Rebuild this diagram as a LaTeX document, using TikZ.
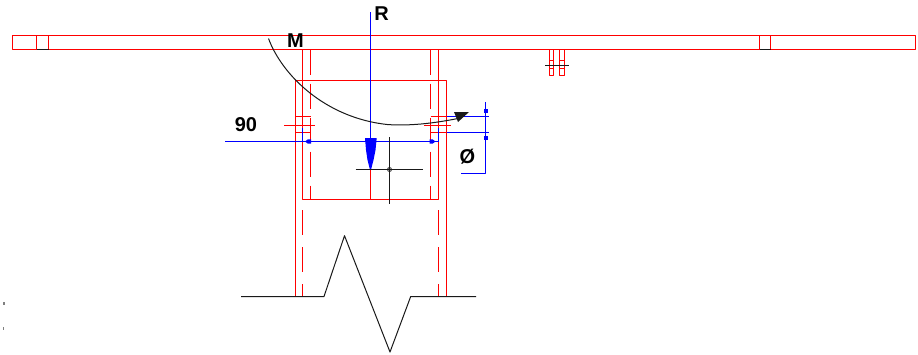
\documentclass[tikz,border=0pt]{standalone}
\usepackage{fontspec}
\setmainfont{Liberation Sans}
\usetikzlibrary{arrows.meta}
\definecolor{beamred}{rgb}{1,0,0}
\definecolor{dimblue}{rgb}{0,0,1}
\definecolor{inkblack}{rgb}{0.1,0.1,0.1}
\tikzset{
  beam/.style={color=beamred, line width=1pt},
  hidden/.style={color=beamred, line width=1pt, dash pattern=on 25pt off 9pt},
  dimline/.style={color=dimblue, line width=1pt},
  ink/.style={color=inkblack, line width=1pt},
  lbl/.style={inner sep=0pt, font=\fontsize{20}{20}\selectfont\bfseries}
}
\begin{document}
\begin{tikzpicture}[line cap=butt,line join=round, x=1pt,y=-1pt]
\clip(0,0) rectangle (918,354);
\draw [beam] (12.5,35.5) rectangle (915.5,49.5);
\draw [beam] (36.5,35.5) -- (36.5,49.5);
\draw [beam] (48.5,35.5) -- (48.5,49.5);
\draw [beam] (759.5,35.5) -- (759.5,49.5);
\draw [beam] (770.5,35.5) -- (770.5,49.5);
\draw [ink] (36.5,49.5) -- (48.5,49.5);
\draw [ink] (759.5,49.5) -- (770.5,49.5);
\draw [beam] (549.5,49.5) rectangle (553.5,75.5);
\draw [beam] (559.5,49.5) rectangle (564.5,75.5);
\draw [beam] (549.5,60.5) -- (553.5,60.5);
\draw [beam] (559.5,60.5) -- (564.5,60.5);
\draw [beam] (549.5,68.5) -- (553.5,68.5);
\draw [beam] (559.5,68.5) -- (564.5,68.5);
\draw [ink] (545,65.5) -- (568.5,65.5);
\draw [beam] (295.5,296.5) -- (295.5,80.5) -- (446.5,80.5) -- (446.5,296.5);
\draw [beam] (302.5,49.5) -- (302.5,199.5) -- (438.5,199.5) -- (438.5,49.5);
\draw [hidden] (310.5,49.5) -- (310.5,199.5);
\draw [hidden] (430.5,49.5) -- (430.5,199.5);
\draw [beam, dash pattern=on 25pt off 12pt] (302.5,210) -- (302.5,296.5);
\draw [beam, dash pattern=on 25pt off 12pt] (438.5,210) -- (438.5,296.5);
\draw [beam] (295.5,116.5) -- (310.5,116.5);
\draw [beam] (284,125.5) -- (315,125.5);
\draw [beam] (295.5,132.5) -- (310.5,132.5);
\draw [beam] (430.5,116.5) -- (446.5,116.5);
\draw [beam] (424,125.5) -- (451,125.5);
\draw [beam] (430.5,132.5) -- (446.5,132.5);
\draw [beam] (370.5,168) -- (370.5,199.5);
\draw [dimline] (370.5,12) -- (370.5,168);
\fill [color=dimblue] (365,138) -- (376.7,138) -- (375.5,150) -- (373.5,160) -- (371.2,169) -- (369.8,169) -- (367.5,160) -- (366,150) -- cycle;
\draw [dimline] (225,141.5) -- (438.5,141.5);
\draw [dimline] (302.5,128) -- (302.5,141.5);
\draw [dimline] (438.5,128) -- (438.5,141.5);
\fill [color=dimblue] (305,141.5) -- (308,139.3) -- (311,139.3) -- (311,143.7) -- (308,143.7) -- cycle;
\fill [color=dimblue] (435.5,141.5) -- (432.5,139.3) -- (429.5,139.3) -- (429.5,143.7) -- (432.5,143.7) -- cycle;
\draw [dimline] (446.5,116.5) -- (488.5,116.5);
\draw [dimline] (446.5,132.5) -- (488.5,132.5);
\draw [dimline] (485.5,102) -- (485.5,173.5) -- (461,173.5);
\fill [color=dimblue] (483.5,109) rectangle (487.5,113);
\fill [color=dimblue] (483.5,135.5) rectangle (487.5,139.5);
\draw [ink] (389.5,137) -- (389.5,204);
\draw [ink] (355.5,169.5) -- (422.5,169.5);
\draw [ink, line width=0.8pt] (389.5,169.5) circle (2pt);
\draw [ink] (268.5,38.5) .. controls (282,75) and (325,118) .. (388,124.6) .. controls (405,125.5) and (425,125) .. (458,118.5);
\fill [color=inkblack] (454,112) -- (469,112) -- (458,122) -- cycle;
\draw [ink] (241,296.5) -- (324,296.5) -- (344.5,235.7) -- (390,352) -- (410.7,296.5) -- (476,296.5);
\fill [color=gray] (3,301.5) rectangle (5,304.5);
\fill [color=gray] (3,327) rectangle (4,329.5);
\node [lbl] (labelR) at (381.5,13.5) {R};
\node [lbl] (labelM) at (295.5,40.5) {M};
\node [lbl] (labelNinety) at (246,125) {90};
\node [lbl] (labelDia) at (467.5,156.5) {Ø};
\end{tikzpicture}
\end{document}
